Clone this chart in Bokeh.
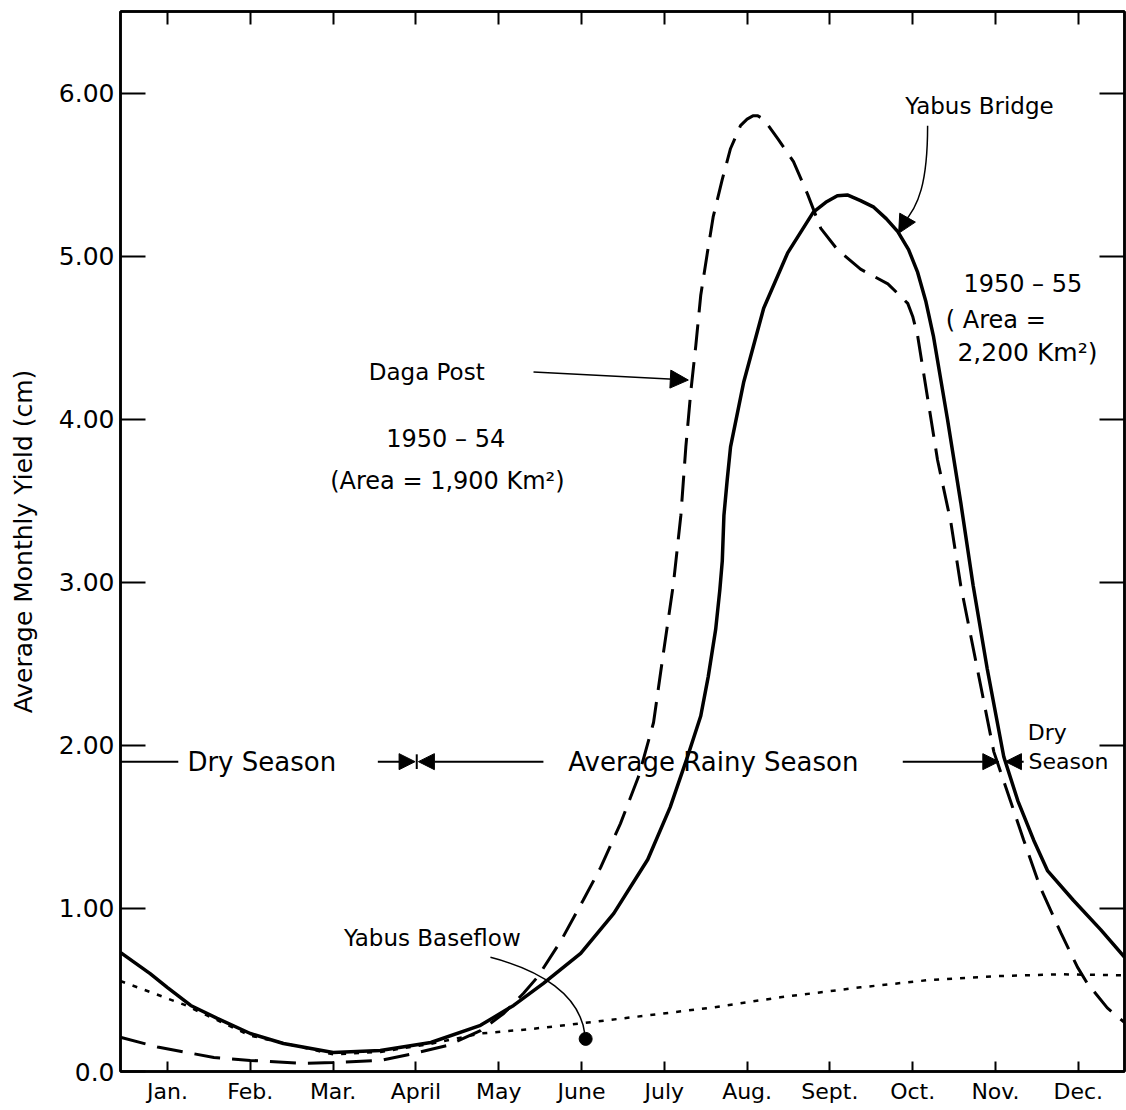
from bokeh.plotting import figure
from bokeh.models import (FixedTicker, LinearAxis, Label, Arrow, NormalHead)
from bokeh.embed import file_html
from bokeh.resources import INLINE

# ---------------- data ----------------
months = ["Jan.", "Feb.", "Mar.", "April", "May", "June", "July",
          "Aug.", "Sept.", "Oct.", "Nov.", "Dec."]
month_pos = [1, 2, 3, 4, 5, 6, 7, 8, 9, 10, 11, 12]
y_ticks = [0, 1, 2, 3, 4, 5, 6]
y_tick_labels = ["0.0", "1.00", "2.00", "3.00", "4.00", "5.00", "6.00"]

# Yabus Bridge 1950-55 (solid)
bridge_x = [0.43, 0.79, 1.00, 1.28, 1.60, 2.00, 2.40, 3.00, 3.57, 4.18, 4.78,
            5.18, 5.54, 5.99, 6.39, 6.80, 7.07, 7.28, 7.44, 7.53, 7.62, 7.67,
            7.70, 7.72, 7.76, 7.80, 7.96, 8.20, 8.49, 8.80, 8.95, 9.09, 9.21,
            9.37, 9.53, 9.68, 9.82, 9.95, 10.06, 10.16, 10.25, 10.42, 10.58,
            10.73, 10.90, 11.10, 11.27, 11.46, 11.63, 11.94, 12.27, 12.56]
bridge_y = [0.73, 0.60, 0.515, 0.405, 0.326, 0.233, 0.172, 0.117, 0.129,
            0.178, 0.283, 0.405, 0.54, 0.725, 0.97, 1.30, 1.62, 1.93, 2.18,
            2.42, 2.71, 2.95, 3.13, 3.41, 3.63, 3.83, 4.23, 4.68, 5.02, 5.27,
            5.33, 5.37, 5.375, 5.34, 5.30, 5.23, 5.15, 5.04, 4.90, 4.72, 4.51,
            4.00, 3.49, 2.98, 2.47, 1.93, 1.66, 1.42, 1.23, 1.05, 0.87, 0.70]

# Daga Post 1950-54 (dashed)
daga_x = [0.43, 0.88, 1.56, 2.00, 2.61, 3.00, 3.57, 3.97, 4.38, 4.78, 5.06,
          5.30, 5.47, 5.75, 6.02, 6.23, 6.47, 6.69, 6.87, 6.99, 7.11, 7.20,
          7.26, 7.32, 7.38, 7.44, 7.52, 7.59, 7.70, 7.80, 7.92, 8.00, 8.07,
          8.13, 8.20, 8.37, 8.56, 8.73, 8.89, 9.09, 9.37, 9.70, 9.94, 10.00,
          10.06, 10.18, 10.30, 10.46, 10.58, 10.78, 10.98, 11.18, 11.34,
          11.54, 11.79, 11.99, 12.11, 12.35, 12.56]
daga_y = [0.21, 0.15, 0.086, 0.068, 0.05, 0.055, 0.068, 0.11, 0.16, 0.25,
          0.356, 0.48, 0.58, 0.80, 1.05, 1.25, 1.52, 1.81, 2.14, 2.57, 2.99,
          3.41, 3.83, 4.17, 4.45, 4.76, 5.02, 5.24, 5.47, 5.66, 5.80, 5.84,
          5.86, 5.86, 5.84, 5.72, 5.58, 5.38, 5.17, 5.04, 4.92, 4.83, 4.71,
          4.63, 4.51, 4.13, 3.75, 3.37, 2.98, 2.47, 1.96, 1.66, 1.42, 1.13,
          0.85, 0.64, 0.54, 0.39, 0.30]

# Yabus baseflow (dotted)
base_x = [0.43, 0.83, 1.20, 2.00, 3.00, 3.57, 4.18, 4.78, 5.38, 5.99, 6.80,
          7.59, 8.40, 9.37, 10.18, 10.98, 11.78, 12.56]
base_y = [0.555, 0.48, 0.41, 0.22, 0.105, 0.12, 0.17, 0.233, 0.26, 0.295,
          0.344, 0.393, 0.455, 0.516, 0.56, 0.584, 0.596, 0.59]

baseflow_point_x = [6.05]
baseflow_point_y = [0.20]

season_level = 1.90

FONT = "DejaVu Sans"

# ---------------- figure ----------------
p = figure(width=1126, height=1110, x_range=(0.432, 12.558), y_range=(0, 6.5),
           output_backend="svg", toolbar_location=None,
           min_border_left=120, min_border_right=2, min_border_top=11,
           min_border_bottom=39, x_axis_location=None, y_axis_location=None)
p.grid.visible = False
p.outline_line_color = "black"
p.outline_line_width = 2.5
p.background_fill_color = "white"
p.border_fill_color = "white"

# left axis
ly = LinearAxis(ticker=FixedTicker(ticks=y_ticks))
ly.major_label_overrides = {t: s for t, s in zip(y_ticks, y_tick_labels)}
ly.major_tick_in = 25
ly.major_tick_out = 0
ly.minor_tick_line_color = None
ly.major_tick_line_width = 2
ly.axis_line_width = 2.5
ly.major_label_text_font = FONT
ly.major_label_text_font_size = "25px"
ly.major_label_text_color = "black"
ly.major_label_standoff = 6
ly.axis_label = "Average Monthly Yield (cm)"
ly.axis_label_text_font = FONT
ly.axis_label_text_font_style = "normal"
ly.axis_label_text_font_size = "25px"
ly.axis_label_text_color = "black"
ly.axis_label_standoff = 18
p.add_layout(ly, "left")

# right axis (ticks only)
ry = LinearAxis(ticker=FixedTicker(ticks=y_ticks))
ry.major_label_overrides = {t: "" for t in y_ticks}
ry.major_tick_in = 25
ry.major_tick_out = 0
ry.minor_tick_line_color = None
ry.major_tick_line_width = 2
ry.axis_line_width = 2.5
ry.major_label_standoff = 0
p.add_layout(ry, "right")

# bottom axis
bx = LinearAxis(ticker=FixedTicker(ticks=month_pos))
bx.major_label_overrides = {m: s for m, s in zip(month_pos, months)}
bx.major_tick_in = 10
bx.major_tick_out = 0
bx.minor_tick_line_color = None
bx.major_tick_line_width = 2
bx.axis_line_width = 2.5
bx.major_label_text_font = FONT
bx.major_label_text_font_size = "22px"
bx.major_label_text_color = "black"
bx.major_label_standoff = 7
p.add_layout(bx, "below")

# top axis (ticks only)
tx = LinearAxis(ticker=FixedTicker(ticks=month_pos))
tx.major_label_overrides = {m: "" for m in month_pos}
tx.major_tick_in = 13
tx.major_tick_out = 0
tx.minor_tick_line_color = None
tx.major_tick_line_width = 2
tx.axis_line_width = 2.5
tx.major_label_standoff = 0
p.add_layout(tx, "above")

# ---------------- curves ----------------
p.line(base_x, base_y, line_color="black", line_width=2.5, line_dash="5 8")
p.line(daga_x, daga_y, line_color="black", line_width=3, line_dash="26 12")
p.line(bridge_x, bridge_y, line_color="black", line_width=3.5)
p.scatter(baseflow_point_x, baseflow_point_y, size=13, color="black")

# ---------------- annotations ----------------
def label(x, y, text, size="22px", align="left"):
    p.add_layout(Label(x=x, y=y, text=text, text_font=FONT,
                       text_font_size=size, text_align=align,
                       text_baseline="middle", text_color="black"))

def arrow(x0, y0, x1, y1, size=16, lw=2):
    p.add_layout(Arrow(end=NormalHead(size=size, fill_color="black",
                                      line_color="black", line_width=1),
                       x_start=x0, y_start=y0, x_end=x1, y_end=y1,
                       line_color="black", line_width=lw))

label(3.43, 4.29, "Daga Post", "23px")
arrow(5.42, 4.29, 7.29, 4.24, size=18, lw=1.5)
label(4.36, 3.88, "1950 – 54", "24px", "center")
label(4.38, 3.62, "(Area = 1,900 Km²)", "24px", "center")

label(9.91, 5.92, "Yabus Bridge", "23px")
p.bezier(x0=[10.18], y0=[5.80], x1=[9.88], y1=[5.20],
         cx0=[10.18], cy0=[5.45], cx1=[10.07], cy1=[5.30],
         line_color="black", line_width=1.5)
arrow(9.92, 5.22, 9.83, 5.14, size=18, lw=1.5)
label(11.33, 4.83, "1950 – 55", "24px", "center")
label(10.40, 4.61, "( Area =", "24px")
label(10.54, 4.41, "2,200 Km²)", "25px")

label(3.13, 0.817, "Yabus Baseflow", "23px")
p.bezier(x0=[4.90], y0=[0.70], x1=[6.04], y1=[0.23],
         cx0=[5.51], cy0=[0.62], cx1=[5.98], cy1=[0.47],
         line_color="black", line_width=1.5)

# season markers
p.segment(x0=[0.432], y0=[season_level], x1=[1.13], y1=[season_level],
          line_color="black", line_width=2)
label(1.24, season_level, "Dry Season", "26px")
arrow(3.54, season_level, 3.99, season_level)
p.segment(x0=[4.01], y0=[1.945], x1=[4.01], y1=[1.855],
          line_color="black", line_width=2)
arrow(5.54, season_level, 4.03, season_level)
label(5.84, season_level, "Average Rainy Season", "26px")
arrow(9.88, season_level, 11.04, season_level)
arrow(11.34, season_level, 11.12, season_level)
label(11.39, 2.08, "Dry", "22px")
label(11.40, 1.90, "Season", "22px")

open("out.html", "w").write(file_html(p, INLINE))
